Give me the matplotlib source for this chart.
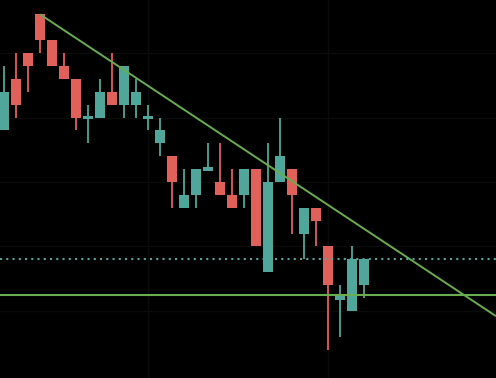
import matplotlib
matplotlib.use("Agg")
import matplotlib.pyplot as plt
import numpy as np

# OHLC data (candle index 0..30)
opens  = [38, 46, 50, 56, 52, 48, 46, 40, 40, 44, 42, 42, 40, 36, 34, 26, 28, 32, 30, 28, 28, 32, 16, 30, 32, 22, 26, 20, 12, 10, 14]
highs  = [48, 50, 50, 56, 52, 50, 46, 42, 46, 50, 48, 46, 42, 40, 34, 32, 32, 36, 36, 32, 32, 32, 36, 40, 32, 26, 26, 20, 14, 20, 18]
lows   = [38, 40, 44, 50, 48, 46, 38, 36, 40, 42, 40, 40, 38, 34, 26, 26, 26, 32, 28, 26, 26, 20, 16, 30, 22, 18, 20,  4,  6, 10, 12]
closes = [44, 42, 48, 52, 48, 46, 40, 40, 44, 42, 48, 44, 40, 38, 30, 28, 32, 32, 28, 26, 32, 20, 30, 34, 28, 26, 24, 14, 12, 18, 18]

# Reference lines
trend_start = (3, 56.0)
trend_end = (41, 9.2)
support_level = 12.5
dotted_level = 18.0
grid_x = [12, 27]
grid_y = [10, 20, 30, 40, 50]

UP = "#50a69b"
DOWN = "#e0605a"
LINE = "#68ad4f"
BG = "#000000"

fig = plt.figure(figsize=(4.96, 3.78), dpi=100, facecolor=BG)
ax = fig.add_axes([0, 0, 1, 1], facecolor=BG)

for gx in grid_x:
    ax.axvline(gx, color="#0b0b0b", lw=1.0, zorder=0)
for gy in grid_y:
    ax.axhline(gy, color="#0b0b0b", lw=1.0, zorder=0)

x = np.arange(len(opens))
o = np.array(opens, float); c = np.array(closes, float)
h = np.array(highs, float); l = np.array(lows, float)
colors = [UP if cc >= oo else DOWN for oo, cc in zip(o, c)]

ax.vlines(x, l, h, colors=colors, lw=1.3, zorder=2)
bottom = np.minimum(o, c)
height = np.abs(c - o)
mask = height < 0.35
bottom = np.where(mask, o - 0.25, bottom)
height = np.where(mask, 0.5, height)
ax.bar(x, height, bottom=bottom, width=0.83, color=colors, linewidth=0, zorder=3)

ax.plot([trend_start[0], trend_end[0]], [trend_start[1], trend_end[1]], color=LINE, lw=1.4, zorder=4, solid_capstyle="butt")
ax.axhline(support_level, color=LINE, lw=1.5, zorder=4)
ax.axhline(dotted_level, color=UP, lw=1.5, linestyle=(0, (1, 2)), dash_capstyle="butt", zorder=5)

ax.set_xlim(-4/12, 41)
ax.set_ylim(-0.39, 58.22)
for s in ax.spines.values():
    s.set_visible(False)
ax.set_xticks([]); ax.set_yticks([])

fig.savefig("out.png", dpi=100, facecolor=BG)
